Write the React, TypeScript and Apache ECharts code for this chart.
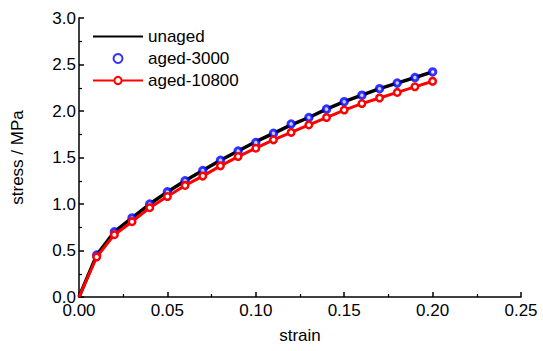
import React, { useEffect, useRef } from "react";
import * as echarts from "echarts";

const strain = [0, 0.01, 0.02, 0.03, 0.04, 0.05, 0.06, 0.07, 0.08, 0.09, 0.1, 0.11, 0.12, 0.13, 0.14, 0.15, 0.16, 0.17, 0.18, 0.19, 0.2];
const unaged = [0, 0.45, 0.7, 0.85, 1.0, 1.13, 1.25, 1.36, 1.47, 1.57, 1.67, 1.76, 1.85, 1.93, 2.02, 2.1, 2.17, 2.24, 2.3, 2.36, 2.42];
const aged3000 = [null, 0.45, 0.7, 0.85, 1.0, 1.13, 1.25, 1.36, 1.47, 1.57, 1.66, 1.76, 1.86, 1.93, 2.02, 2.1, 2.17, 2.24, 2.3, 2.36, 2.42];
const aged10800 = [0, 0.43, 0.67, 0.81, 0.96, 1.08, 1.2, 1.3, 1.41, 1.51, 1.6, 1.69, 1.77, 1.85, 1.93, 2.01, 2.08, 2.14, 2.2, 2.26, 2.32];
const xTicks = [0, 0.05, 0.1, 0.15, 0.2, 0.25];
const yTicks = [0, 0.5, 1.0, 1.5, 2.0, 2.5, 3.0];

const FONT = "'Liberation Sans', Arial, sans-serif";

export default function App() {
  const ref = useRef<HTMLDivElement>(null);
  useEffect(() => {
    if (!ref.current) return;
    document.body.style.margin = "0";
    const chart = echarts.init(ref.current, null, { renderer: "svg" });
    const axisCommon = {
      axisLine: { show: true, lineStyle: { color: "#000", width: 1.5 } },
      axisTick: { show: true, inside: true, length: 5, lineStyle: { color: "#000", width: 1.5 } },
      minorTick: { show: true, splitNumber: 2, length: 3, lineStyle: { color: "#000", width: 1.2 } },
      splitLine: { show: false },
      axisLabel: { color: "#000", fontSize: 17, fontFamily: FONT },
      nameTextStyle: { color: "#000", fontSize: 17, fontFamily: FONT },
    };
    chart.setOption({
      animation: false,
      backgroundColor: "#fff",
      grid: { left: 79, top: 18, width: 442, height: 279, containLabel: false },
      legend: {
        left: 87,
        top: 23,
        orient: "vertical",
        itemWidth: 50,
        itemHeight: 9,
        itemGap: 5,
        textStyle: { color: "#000", fontSize: 17, fontFamily: FONT },
        data: [
          { name: "unaged", itemStyle: { opacity: 0 } },
          { name: "aged-3000" },
          { name: "aged-10800" },
        ],
      },
      xAxis: {
        type: "value",
        min: xTicks[0],
        max: xTicks[xTicks.length - 1],
        interval: 0.05,
        name: "strain",
        nameLocation: "middle",
        nameGap: 30,
        ...axisCommon,
        axisLabel: { ...axisCommon.axisLabel, margin: 5, formatter: (v: number) => v.toFixed(2) },
      },
      yAxis: {
        type: "value",
        min: yTicks[0],
        max: yTicks[yTicks.length - 1],
        interval: 0.5,
        name: "stress / MPa",
        nameLocation: "middle",
        nameGap: 53,
        ...axisCommon,
        axisLabel: { ...axisCommon.axisLabel, margin: 3, formatter: (v: number) => v.toFixed(1) },
      },
      series: [
        {
          name: "unaged",
          type: "line",
          data: strain.map((x, i) => [x, unaged[i]]),
          symbol: "none",
          lineStyle: { color: "#000", width: 3.5 },
          itemStyle: { color: "#000" },
          z: 2,
        },
        {
          name: "aged-3000",
          type: "scatter",
          data: strain.map((x, i) => [x, aged3000[i]]).filter((d) => d[1] !== null),
          symbol: "circle",
          symbolSize: 6.5,
          itemStyle: { color: "#fff", borderColor: "#0000ff", borderWidth: 3 },
          z: 3,
        },
        {
          name: "aged-10800",
          type: "line",
          data: strain.map((x, i) =>
            i === 0 ? { value: [x, aged10800[i]], symbol: "none" } : [x, aged10800[i]]
          ),
          symbol: "circle",
          symbolSize: 6.5,
          showAllSymbol: true,
          lineStyle: { color: "#ff0000", width: 3 },
          itemStyle: { color: "#fff", borderColor: "#ff0000", borderWidth: 2.5 },
          z: 4,
        },
      ],
    });
    return () => chart.dispose();
  }, []);
  return <div ref={ref} style={{ width: 543, height: 351 }} />;
}
